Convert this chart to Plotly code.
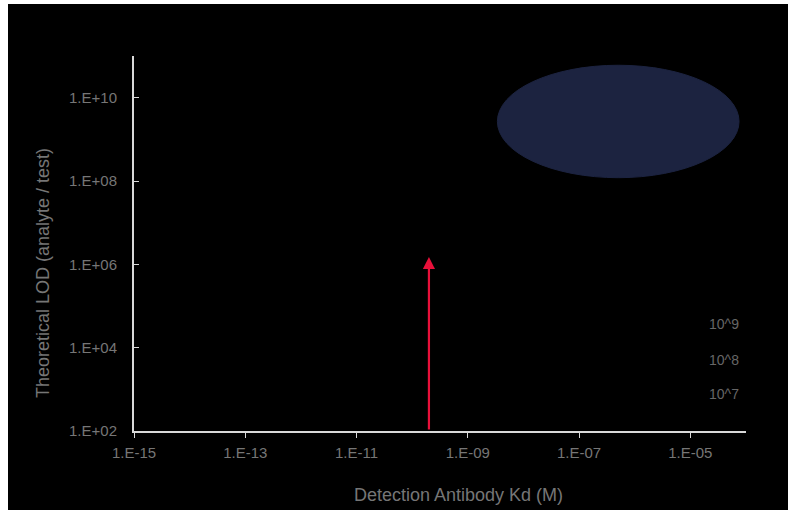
import numpy as np
import plotly.graph_objects as go

# Axis ticks
kd_ticks = [1e-15, 1e-13, 1e-11, 1e-9, 1e-7, 1e-5]
kd_tick_text = ["1.E-15", "1.E-13", "1.E-11", "1.E-09", "1.E-07", "1.E-05"]
lod_ticks = [1e2, 1e4, 1e6, 1e8, 1e10]
lod_tick_text = ["1.E+02", "1.E+04", "1.E+06", "1.E+08", "1.E+10"]

# Red arrow: detection antibody Kd and the LOD it reaches
arrow_kd = 2e-10
arrow_lod = [1e2, 1.5e6]

# Shaded region (Kd range, LOD range)
region_kd = [3.4e-9, 7.5e-5]
region_lod = [1.2e8, 6.0e10]

# Series labels at the right
series_labels = ["10^9", "10^8", "10^7"]
series_label_kd = [4.1e-5, 4.1e-5, 4.1e-5]
series_label_lod = [3.8e4, 5.1e3, 7.8e2]

grey = "#767676"
font_family = "Liberation Sans, Arial, sans-serif"

fig = go.Figure()

# invisible trace so the axes exist
fig.add_trace(go.Scatter(x=[kd_ticks[0]], y=[lod_ticks[0]], mode="markers",
                         marker=dict(opacity=0), showlegend=False, hoverinfo="skip"))

L, R, T, B = 134, 42, 56, 79
W, H = 788, 510
pw, ph = W - L - R, H - T - B
bottom = H - B  # pixel row of the x axis

# black canvas with a thin white strip on the left and top
fig.add_shape(type="rect", xref="paper", yref="paper",
              x0=(8 - L) / pw, x1=(W - L) / pw,
              y0=-B / ph, y1=(bottom - 4) / ph,
              fillcolor="black", line=dict(width=0), layer="below")

fig.add_shape(type="circle", xref="x", yref="y",
              x0=region_kd[0], x1=region_kd[1], y0=region_lod[0], y1=region_lod[1],
              fillcolor="#1c2340", line=dict(color="#1c2340", width=1), layer="above")

fig.add_annotation(x=np.log10(arrow_kd), y=np.log10(arrow_lod[1]),
                   ax=np.log10(arrow_kd), ay=np.log10(arrow_lod[0]),
                   xref="x", yref="y", axref="x", ayref="y",
                   showarrow=True, arrowhead=2, arrowsize=1.1, arrowwidth=2.2,
                   arrowcolor="#e8103a", text="")

for lab, xv, yv in zip(series_labels, series_label_kd, series_label_lod):
    fig.add_annotation(x=np.log10(xv), y=np.log10(yv), xref="x", yref="y",
                       text=lab, showarrow=False,
                       font=dict(family=font_family, size=14, color="#666666"))

fig.add_annotation(text="Detection Antibody Kd (M)", xref="paper", yref="paper",
                   x=(458 - L) / pw, y=(bottom - 495) / ph, showarrow=False,
                   xanchor="center", yanchor="middle",
                   font=dict(family=font_family, size=18, color=grey))
fig.add_annotation(text="Theoretical LOD (analyte / test)", xref="paper", yref="paper",
                   x=(43 - L) / pw, y=(bottom - 273) / ph, showarrow=False, textangle=-90,
                   xanchor="center", yanchor="middle",
                   font=dict(family=font_family, size=18, color=grey))

fig.update_xaxes(type="log", range=[-15, -4], tickvals=kd_ticks, ticktext=kd_tick_text,
                 showgrid=False, zeroline=False, showline=True, linecolor="#d9d9d9",
                 linewidth=2, ticks="outside", ticklen=5, tickcolor="#d9d9d9",
                 ticklabelstandoff=2,
                 tickfont=dict(family=font_family, size=15, color=grey))
fig.update_yaxes(type="log", range=[2, 11], tickvals=lod_ticks, ticktext=lod_tick_text,
                 showgrid=False, zeroline=False, showline=True, linecolor="#d9d9d9",
                 linewidth=2, ticks="inside", ticklen=5, tickcolor="#d9d9d9",
                 ticklabelstandoff=12,
                 tickfont=dict(family=font_family, size=15, color=grey))

fig.update_layout(width=W, height=H, margin=dict(l=L, r=R, t=T, b=B),
                  paper_bgcolor="white", plot_bgcolor="black", showlegend=False)

fig.write_html("out.html")
